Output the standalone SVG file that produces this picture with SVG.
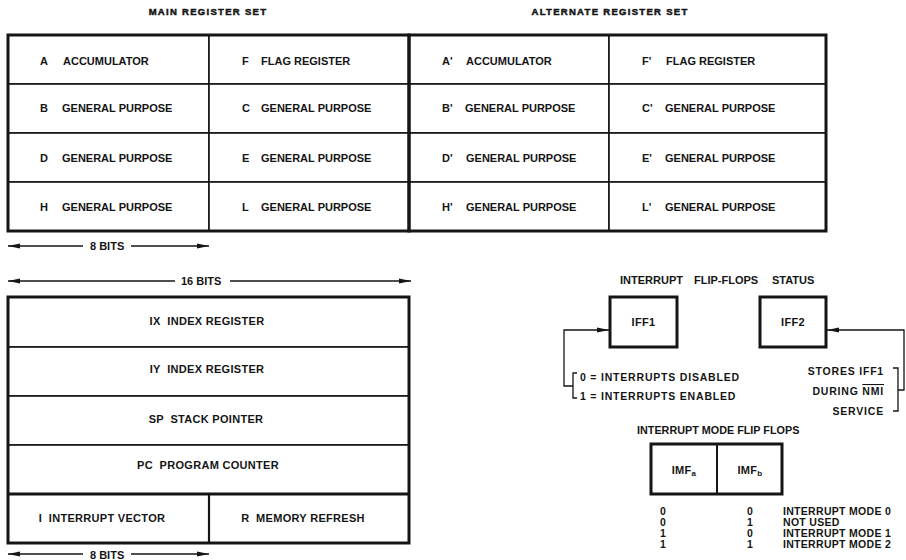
<svg xmlns="http://www.w3.org/2000/svg" width="906" height="560" viewBox="0 0 906 560">
<style>
  text { font-family: "Liberation Sans", Arial, sans-serif; font-weight: bold; fill: #151515; white-space: pre; }
  .t { font-size: 11px; }
  .c { font-size: 11px; text-anchor: middle; letter-spacing: 0.3px; }
  .title { font-size: 9.5px; letter-spacing: 1.3px; text-anchor: middle; stroke: #151515; stroke-width: 0.5px; }
  .s { font-size: 10.5px; letter-spacing: 0.8px; }
  .tb { font-size: 10.5px; letter-spacing: 0.3px; }
  .cell { fill: #fff; stroke: #151515; stroke-width: 1.6; }
  .frame { fill: none; stroke: #151515; stroke-width: 3; }
  .box { fill: #fff; stroke: #151515; stroke-width: 3; }
  .ln { fill: none; stroke: #151515; stroke-width: 1.3; }
</style>
<defs>
  <marker id="ah" viewBox="0 0 12 6" refX="12" refY="3" markerWidth="12" markerHeight="6" markerUnits="userSpaceOnUse" orient="auto-start-reverse">
    <path d="M0,0.6 L12,3 L0,5.4 Z" fill="#151515"/>
  </marker>
</defs>

<text class="title" x="208" y="15">MAIN REGISTER SET</text>
<text class="title" x="610" y="15">ALTERNATE REGISTER SET</text>

<g id="reg-A"><rect class="cell" x="8" y="35" width="201" height="49"/><text class="t" x="40" y="65">A</text><text class="t" x="63" y="65">ACCUMULATOR</text></g>
<g id="reg-F"><rect class="cell" x="209" y="35" width="200" height="49"/><text class="t" x="242" y="65">F</text><text class="t" x="261" y="65">FLAG REGISTER</text></g>
<g id="reg-B"><rect class="cell" x="8" y="84" width="201" height="49"/><text class="t" x="40" y="112">B</text><text class="t" x="62" y="112">GENERAL PURPOSE</text></g>
<g id="reg-C"><rect class="cell" x="209" y="84" width="200" height="49"/><text class="t" x="242" y="112">C</text><text class="t" x="261" y="112">GENERAL PURPOSE</text></g>
<g id="reg-D"><rect class="cell" x="8" y="133" width="201" height="49"/><text class="t" x="40" y="162">D</text><text class="t" x="62" y="162">GENERAL PURPOSE</text></g>
<g id="reg-E"><rect class="cell" x="209" y="133" width="200" height="49"/><text class="t" x="242" y="162">E</text><text class="t" x="261" y="162">GENERAL PURPOSE</text></g>
<g id="reg-H"><rect class="cell" x="8" y="182" width="201" height="49"/><text class="t" x="40" y="211">H</text><text class="t" x="62" y="211">GENERAL PURPOSE</text></g>
<g id="reg-L"><rect class="cell" x="209" y="182" width="200" height="49"/><text class="t" x="242" y="211">L</text><text class="t" x="261" y="211">GENERAL PURPOSE</text></g>

<g id="reg-A2"><rect class="cell" x="409" y="35" width="200" height="49"/><text class="t" x="442" y="65">A'</text><text class="t" x="466" y="65">ACCUMULATOR</text></g>
<g id="reg-F2"><rect class="cell" x="609" y="35" width="217" height="49"/><text class="t" x="642" y="65">F'</text><text class="t" x="666" y="65">FLAG REGISTER</text></g>
<g id="reg-B2"><rect class="cell" x="409" y="84" width="200" height="49"/><text class="t" x="442" y="112">B'</text><text class="t" x="465" y="112">GENERAL PURPOSE</text></g>
<g id="reg-C2"><rect class="cell" x="609" y="84" width="217" height="49"/><text class="t" x="642" y="112">C'</text><text class="t" x="665" y="112">GENERAL PURPOSE</text></g>
<g id="reg-D2"><rect class="cell" x="409" y="133" width="200" height="49"/><text class="t" x="442" y="162">D'</text><text class="t" x="466" y="162">GENERAL PURPOSE</text></g>
<g id="reg-E2"><rect class="cell" x="609" y="133" width="217" height="49"/><text class="t" x="642" y="162">E'</text><text class="t" x="665" y="162">GENERAL PURPOSE</text></g>
<g id="reg-H2"><rect class="cell" x="409" y="182" width="200" height="49"/><text class="t" x="442" y="211">H'</text><text class="t" x="466" y="211">GENERAL PURPOSE</text></g>
<g id="reg-L2"><rect class="cell" x="609" y="182" width="217" height="49"/><text class="t" x="642" y="211">L'</text><text class="t" x="665" y="211">GENERAL PURPOSE</text></g>

<g id="frames">
  <rect class="frame" x="8" y="35" width="401" height="196"/>
  <rect class="frame" x="409" y="35" width="417" height="196"/>
</g>

<g id="reg-IX"><rect class="cell" x="8" y="297" width="401" height="50"/><text class="c" x="207" y="325" xml:space="preserve">IX  INDEX REGISTER</text></g>
<g id="reg-IY"><rect class="cell" x="8" y="347" width="401" height="49"/><text class="c" x="207" y="373" xml:space="preserve">IY  INDEX REGISTER</text></g>
<g id="reg-SP"><rect class="cell" x="8" y="396" width="401" height="49"/><text class="c" x="206" y="423" xml:space="preserve">SP  STACK POINTER</text></g>
<g id="reg-PC"><rect class="cell" x="8" y="445" width="401" height="49"/><text class="c" x="208" y="469" xml:space="preserve">PC  PROGRAM COUNTER</text></g>
<g id="reg-I"><rect class="cell" x="8" y="494" width="201" height="49"/><text class="c" x="102" y="522" xml:space="preserve">I  INTERRUPT VECTOR</text></g>
<g id="reg-R"><rect class="cell" x="209" y="494" width="200" height="49"/><text class="c" x="303" y="522" xml:space="preserve">R  MEMORY REFRESH</text></g>
<g id="frame2">
  <rect class="frame" x="8" y="297" width="401" height="246"/>
  <line class="frame" x1="8" y1="494" x2="409" y2="494"/>
  <line x1="209" y1="494" x2="209" y2="543" stroke="#151515" stroke-width="2.2"/>
</g>

<g id="connectors">
  <line class="ln" x1="83" y1="246" x2="8" y2="246" marker-end="url(#ah)"/>
  <line class="ln" x1="131" y1="246" x2="209" y2="246" marker-end="url(#ah)"/>
  <line class="ln" x1="175" y1="281" x2="8" y2="281" marker-end="url(#ah)"/>
  <line class="ln" x1="230" y1="281" x2="411" y2="281" marker-end="url(#ah)"/>
  <line class="ln" x1="83" y1="554" x2="8" y2="554" marker-end="url(#ah)"/>
  <line class="ln" x1="131" y1="554" x2="209" y2="554" marker-end="url(#ah)"/>
  <path class="ln" d="M573,386 H564 V330 H609" marker-end="url(#ah)"/>
  <path class="ln" d="M577,373 H573 V398 H577"/>
  <path class="ln" d="M898,390 H904 V330 H827" marker-end="url(#ah)"/>
  <path class="ln" d="M893,368 H898 V411 H893"/>
</g>

<text class="t" x="90" y="250">8 BITS</text>
<text class="t" x="181" y="285">16 BITS</text>
<text class="t" x="90" y="559">8 BITS</text>

<text class="t" x="620" y="284">INTERRUPT</text>
<text class="t" x="694" y="284">FLIP-FLOPS</text>
<text class="t" x="772" y="284">STATUS</text>

<g id="IFF1"><rect class="box" x="610" y="297" width="67" height="50"/><text class="c" x="643.5" y="326">IFF1</text></g>
<g id="IFF2"><rect class="box" x="760" y="297" width="66" height="50"/><text class="c" x="793" y="326">IFF2</text></g>

<text class="s" x="580" y="381">0 = INTERRUPTS DISABLED</text>
<text class="s" x="580" y="400">1 = INTERRUPTS ENABLED</text>

<text class="s" x="884" y="375" text-anchor="end">STORES IFF1</text>
<text class="s" x="884" y="395" text-anchor="end">DURING <tspan text-decoration="overline">NMI</tspan></text>
<text class="s" x="884" y="415" text-anchor="end">SERVICE</text>

<text class="t" x="637" y="434" style="font-size:10.8px">INTERRUPT MODE FLIP FLOPS</text>

<g id="IMF">
  <rect class="box" x="651" y="444" width="131" height="50"/>
  <line x1="717" y1="444" x2="717" y2="494" stroke="#151515" stroke-width="2"/>
  <text class="c" x="684" y="474">IMF<tspan style="font-size:8px" dy="2">a</tspan></text>
  <text class="c" x="750" y="474">IMF<tspan style="font-size:8px" dy="2">b</tspan></text>
</g>

<g id="mode-table">
  <text class="tb" x="660" y="515">0</text><text class="tb" x="747" y="515">0</text><text class="tb" x="783" y="515">INTERRUPT MODE 0</text>
  <text class="tb" x="660" y="526">0</text><text class="tb" x="747" y="526">1</text><text class="tb" x="783" y="526">NOT USED</text>
  <text class="tb" x="660" y="537">1</text><text class="tb" x="747" y="537">0</text><text class="tb" x="783" y="537">INTERRUPT MODE 1</text>
  <text class="tb" x="660" y="548">1</text><text class="tb" x="747" y="548">1</text><text class="tb" x="783" y="548">INTERRUPT MODE 2</text>
</g>
</svg>
